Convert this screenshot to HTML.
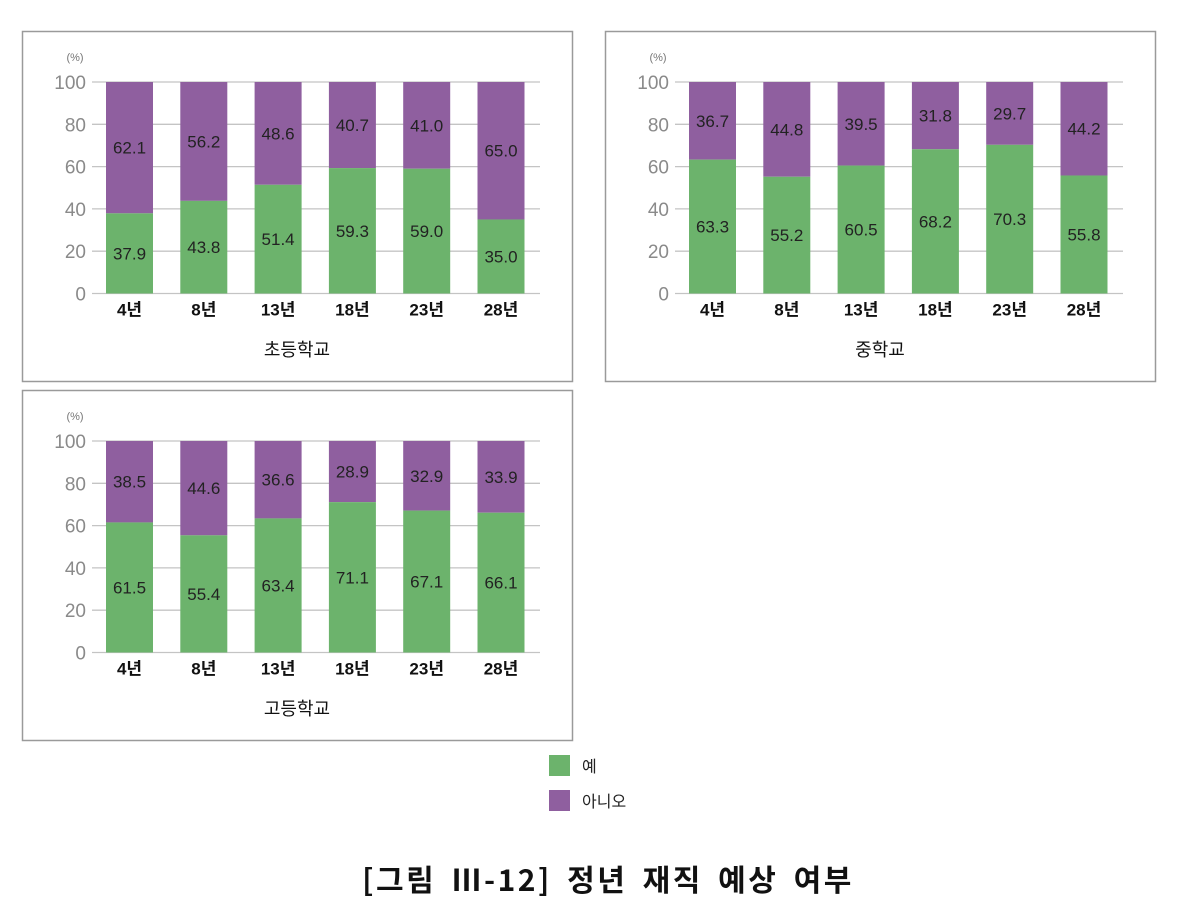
<!DOCTYPE html>
<html><head><meta charset="utf-8"><style>
html,body{margin:0;padding:0;background:#fff}
svg{display:block}
text{font-family:"Liberation Sans","Noto Sans CJK KR",sans-serif}
</style></head><body>
<svg id="s" width="1177" height="921" viewBox="0 0 1177 921" xmlns="http://www.w3.org/2000/svg">
<rect x="22.5" y="31.5" width="550" height="350" fill="#fff" stroke="#9a9a9a" stroke-width="1.5"/>
<rect x="605.5" y="31.5" width="550" height="350" fill="#fff" stroke="#9a9a9a" stroke-width="1.5"/>
<rect x="22.5" y="390.5" width="550" height="350" fill="#fff" stroke="#9a9a9a" stroke-width="1.5"/>
<rect x="549" y="755" width="21" height="21" fill="#6cb36c"/>
<text x="582" y="772" font-size="16" fill="#222">예</text>
<rect x="549" y="790" width="21" height="21" fill="#8f5f9f"/>
<text x="582" y="807" font-size="16" fill="#222">아니오</text>
<text x="608" y="891" font-size="30" font-weight="bold" text-anchor="middle" fill="#111" letter-spacing="2.5" style="font-family:'Noto Sans CJK KR',sans-serif" word-spacing="6">[그림 Ⅲ-12] 정년 재직 예상 여부</text>
</svg>
<script>
const s=document.getElementById('s');
function el(t,a,txt){const e=document.createElementNS('http://www.w3.org/2000/svg',t);for(const k in a)e.setAttribute(k,a[k]);if(txt!=null)e.textContent=txt;s.appendChild(e);}
const labs=['4년','8년','13년','18년','23년','28년'];
function panel(dx,dy,yes,title){
 const top=82+dy,bot=293.5+dy,h=bot-top;
 el('text',{x:75+dx,y:61+dy,'font-size':11,fill:'#777','text-anchor':'middle'},'(%)');
 for(let i=0;i<=5;i++){const y=bot-i*h/5;
  el('line',{x1:92+dx,x2:540+dx,y1:y,y2:y,stroke:'#c4c4c4','stroke-width':1.3});
  el('text',{x:86+dx,y:y+7,'font-size':19,fill:'#8a8a8a','text-anchor':'end'},String(i*20));}
 yes.forEach((v,i)=>{const x=106+dx+i*74.3,w=47;const gy=bot-h*v/100;
  el('rect',{x:x,y:top,width:w,height:gy-top,fill:'#8f5f9f'});
  el('rect',{x:x,y:gy,width:w,height:bot-gy,fill:'#6cb36c'});
  el('text',{x:x+w/2,y:(gy+bot)/2+6,'font-size':17,fill:'#222','text-anchor':'middle'},v.toFixed(1));
  el('text',{x:x+w/2,y:(top+gy)/2+6,'font-size':17,fill:'#222','text-anchor':'middle'},(100-v).toFixed(1));
  el('text',{x:x+w/2,y:bot+22,'font-size':17,fill:'#111','font-weight':'bold','text-anchor':'middle'},labs[i]);});
 el('text',{x:297+dx,y:356+dy,'font-size':18,fill:'#111','text-anchor':'middle'},title);
}
panel(0,0,[37.9,43.8,51.4,59.3,59.0,35.0],'초등학교');
panel(583,0,[63.3,55.2,60.5,68.2,70.3,55.8],'중학교');
panel(0,359,[61.5,55.4,63.4,71.1,67.1,66.1],'고등학교');
</script>
</body></html>
